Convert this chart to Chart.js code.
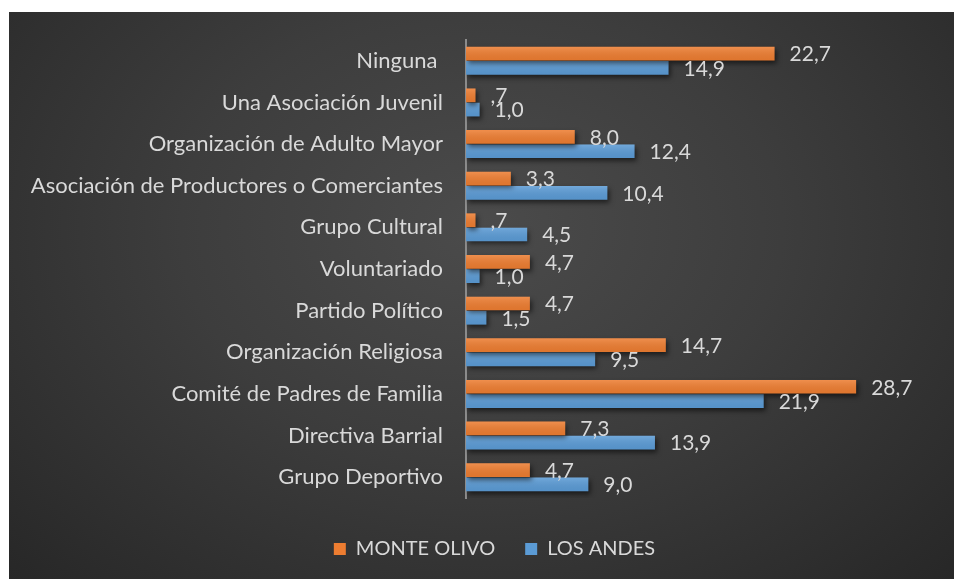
<!DOCTYPE html>
<html lang="es">
<head>
<meta charset="utf-8">
<title>Participación en organizaciones</title>
<script src="https://cdn.jsdelivr.net/npm/chart.js@4.4.1/dist/chart.umd.min.js"></script>
<style>
    html, body { margin: 0; padding: 0; background: #ffffff; }
    #wrap {
        position: absolute;
        left: 9px;
        top: 12px;
        width: 945px;
        height: 567px;
        background: radial-gradient(ellipse at 50% 38%, #4b4b4b 0%, #3d3d3d 45%, #272727 100%);
    }
    canvas { display: block; }
</style>
</head>
<body>
<div id="wrap"><canvas id="chart" width="945" height="567"></canvas></div>
<script>
// ── Data ──────────────────────────────────────────────────────────────

const categories = [
    'Ninguna ',
    'Una Asociación Juvenil',
    'Organización de Adulto Mayor',
    'Asociación de Productores o Comerciantes',
    'Grupo Cultural',
    'Voluntariado',
    'Partido Político',
    'Organización Religiosa',
    'Comité de Padres de Familia',
    'Directiva Barrial',
    'Grupo Deportivo',
];
const monteOlivo = [22.7, 0.7, 8.0, 3.3, 0.7, 4.7, 4.7, 14.7, 28.7, 7.3, 4.7];
const losAndes   = [14.9, 1.0, 12.4, 10.4, 4.5, 1.0, 1.5, 9.5, 21.9, 13.9, 9.0];
const seriesNames = ['MONTE OLIVO', 'LOS ANDES'];

const COLORS = {
    orange: '#ED7D31',
    blue: '#5B9BD5',
    text: '#d9d9d9',
    axis: '#8c8c8c',
};
const FONT = 'Lato, "Open Sans", sans-serif';

// ── Helpers ───────────────────────────────────────────────────────────

// Spanish style: comma decimal, no leading zero (",7")
function fmt(v) {
    let s = v.toFixed(1).replace('.', ',');
    if (s.startsWith('0,')) s = s.slice(1);
    return s;
}

// ── Plugins ───────────────────────────────────────────────────────────

const barShadow = {
    id: 'barShadow',
    beforeDatasetDraw(chart) {
        const ctx = chart.ctx;
        ctx.save();
        ctx.shadowColor = 'rgba(0,0,0,0.55)';
        ctx.shadowBlur = 5;
        ctx.shadowOffsetX = 2;
        ctx.shadowOffsetY = 3;
    },
    afterDatasetDraw(chart, args) {
        const ctx = chart.ctx;
        ctx.restore();
        // soft sheen over each bar
        args.meta.data.forEach(bar => {
            const top = bar.y - bar.height / 2;
            const g = ctx.createLinearGradient(0, top, 0, top + bar.height);
            g.addColorStop(0, 'rgba(255,255,255,0.14)');
            g.addColorStop(1, 'rgba(0,0,0,0.06)');
            ctx.fillStyle = g;
            ctx.fillRect(bar.base, top, bar.x - bar.base, bar.height);
        });
    },
};

const valueLabels = {
    id: 'valueLabels',
    afterDraw(chart) {
        const ctx = chart.ctx;
        ctx.save();
        ctx.font = `21px ${FONT}`;
        ctx.fillStyle = COLORS.text;
        ctx.textBaseline = 'middle';
        ctx.textAlign = 'left';
        chart.data.datasets.forEach((ds, di) => {
            chart.getDatasetMeta(di).data.forEach((bar, i) => {
                ctx.fillText(fmt(ds.data[i]), bar.x + 15, bar.y + 1);
            });
        });
        ctx.restore();
    },
};

// legend is centred a little right of the canvas middle
const legendShift = {
    id: 'legendShift',
    afterLayout(chart) {
        if (chart.legend) chart.legend.left += 26;
    },
};

// ── Chart ─────────────────────────────────────────────────────────────

function initChart() {
    const ctx = document.getElementById('chart').getContext('2d');
    new Chart(ctx, {
        type: 'bar',
        data: {
            labels: categories,
            datasets: [
                { label: seriesNames[0], data: monteOlivo, backgroundColor: COLORS.orange },
                { label: seriesNames[1], data: losAndes, backgroundColor: COLORS.blue },
            ],
        },
        options: {
            indexAxis: 'y',
            responsive: false,
            animation: false,
            categoryPercentage: 0.685,
            barPercentage: 0.96,
            layout: { padding: { top: 28, right: 0, bottom: 10, left: 0 } },
            plugins: {
                legend: {
                    position: 'bottom',
                    labels: {
                        color: COLORS.text,
                        font: { family: FONT, size: 20 },
                        boxWidth: 12,
                        boxHeight: 12,
                        padding: 30,
                    },
                },
                tooltip: { enabled: false },
            },
            scales: {
                x: {
                    min: 0,
                    max: 35.9,
                    // hidden axis, only keeps a gap above the legend
                    afterFit(scale) { scale.height = 11; },
                    border: { display: false },
                    grid: { display: false },
                    ticks: { display: false },
                },
                y: {
                    afterFit(scale) {
                        scale.width = 457;
                        scale.paddingTop = 0;
                        scale.paddingBottom = 0;
                    },
                    border: { display: true, color: COLORS.axis, width: 2 },
                    grid: { display: false, drawTicks: false },
                    ticks: {
                        color: COLORS.text,
                        font: { family: FONT, size: 22 },
                        padding: 23,
                    },
                },
            },
        },
        plugins: [barShadow, valueLabels, legendShift],
    });
}

document.addEventListener('DOMContentLoaded', initChart);
</script>
</body>
</html>
